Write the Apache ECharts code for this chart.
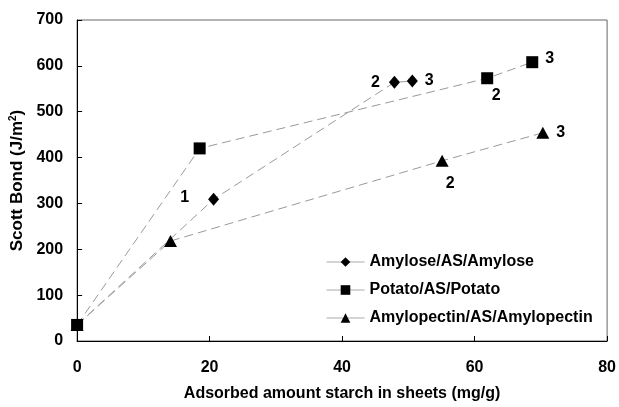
<!DOCTYPE html>
<html><head><meta charset="utf-8">
<script src="https://cdn.jsdelivr.net/npm/echarts@6/dist/echarts.min.js"></script>
<style>html,body{margin:0;padding:0;background:#fff}#c{width:619px;height:407px}</style>
</head><body><div id="c"></div>
<script>
// Data
const seriesNames = ['Amylose/AS/Amylose', 'Potato/AS/Potato', 'Amylopectin/AS/Amylopectin'];
const amyloseX = [0, 20.6, 47.9, 50.6];
const amyloseY = [35, 309, 564, 567];
const amyloseLabels = ['', '1', '2', '3'];
const potatoX = [0, 18.5, 61.9, 68.7];
const potatoY = [35, 420, 573, 608];
const potatoLabels = ['', '', '2', '3'];
const amylopectinX = [0, 14.1, 55.1, 70.3];
const amylopectinY = [35, 218, 393, 454];
const amylopectinLabels = ['', '', '2', '3'];
const xTicks = [0, 20, 40, 60, 80];
const yTicks = [0, 100, 200, 300, 400, 500, 600, 700];

// label placement (style only)
const labelStyle = {
  amylose: [null, {position: 'left', offset: [-14, -2]}, {position: 'left', offset: [-4, 0]}, {position: 'right', offset: [2, 0]}],
  potato: [null, null, {position: 'bottom', offset: [9, -2]}, {position: 'right', offset: [2, -4]}],
  amylopectin: [null, null, {position: 'bottom', offset: [8, 4]}, {position: 'right', offset: [2, 0]}]
};

function build(xs, ys, labels, styles) {
  return xs.map((x, i) => {
    const item = {value: [x, ys[i]]};
    if (labels[i]) {
      item.label = Object.assign({show: true, formatter: labels[i]}, styles[i]);
    }
    return item;
  });
}

const font = '"Liberation Sans", Arial, Helvetica, sans-serif';
const FS = 16;
const baseSeries = {
  type: 'line',
  lineStyle: {color: '#9a9a9a', width: 1, type: [9, 5]},
  itemStyle: {color: '#000'},
  label: {show: false, color: '#000', fontWeight: 'bold', fontSize: FS, fontFamily: font},
  emphasis: {disabled: true},
  animation: false,
  z: 3
};

const chart = echarts.init(document.getElementById('c'));
chart.setOption({
  backgroundColor: '#fff',
  animation: false,
  grid: {left: 76, right: 10, top: 20, bottom: 62, show: true, borderColor: '#666', borderWidth: 1},
  legend: {
    orient: 'vertical', left: 321, top: 249, itemWidth: 38, itemHeight: 12, itemGap: 12,
    lineStyle: {type: 'solid', color: '#aaa', width: 1},
    textStyle: {fontFamily: font, fontWeight: 'bold', fontSize: FS, color: '#000'},
    data: seriesNames
  },
  xAxis: {
    type: 'value', min: xTicks[0], max: xTicks[xTicks.length - 1], interval: 20,
    axisLine: {lineStyle: {color: '#000', width: 1}},
    axisTick: {inside: true, length: 5, lineStyle: {color: '#000'}},
    splitLine: {show: false},
    axisLabel: {margin: 19, color: '#000', fontWeight: 'bold', fontSize: FS, fontFamily: font},
    name: 'Adsorbed amount starch in sheets (mg/g)', nameLocation: 'middle', nameGap: 45,
    nameTextStyle: {color: '#000', fontWeight: 'bold', fontSize: FS, fontFamily: font}
  },
  yAxis: {
    type: 'value', min: yTicks[0], max: yTicks[yTicks.length - 1], interval: 100,
    axisLine: {show: true, lineStyle: {color: '#000', width: 1}},
    axisTick: {show: true, inside: true, length: 5, lineStyle: {color: '#000'}},
    splitLine: {show: false},
    axisLabel: {margin: 14, color: '#000', fontWeight: 'bold', fontSize: FS, fontFamily: font},
    name: 'Scott Bond (J/m{sup|2})', nameLocation: 'middle', nameGap: 48,
    nameTextStyle: {color: '#000', fontWeight: 'bold', fontSize: 17, fontFamily: font,
      rich: {sup: {fontSize: 10, fontWeight: 'bold', fontFamily: font, color: '#000', verticalAlign: 'top', padding: [0, 0, 8, 0]}}}
  },
  series: [
    Object.assign({}, baseSeries, {name: seriesNames[0], symbol: 'diamond', symbolSize: [11, 13], data: build(amyloseX, amyloseY, amyloseLabels, labelStyle.amylose)}),
    Object.assign({}, baseSeries, {name: seriesNames[1], symbol: 'rect', symbolSize: 12, data: build(potatoX, potatoY, potatoLabels, labelStyle.potato)}),
    Object.assign({}, baseSeries, {name: seriesNames[2], symbol: 'triangle', symbolSize: [13, 12], data: build(amylopectinX, amylopectinY, amylopectinLabels, labelStyle.amylopectin)})
  ]
});
</script></body></html>
